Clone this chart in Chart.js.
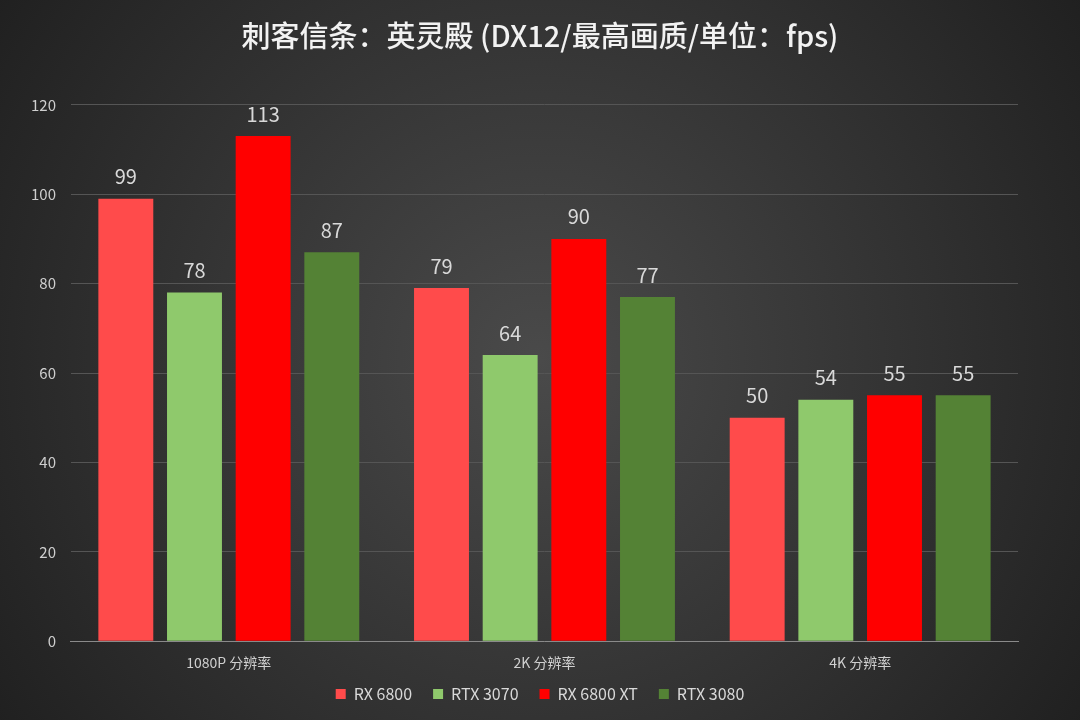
<!DOCTYPE html>
<html>
<head>
<meta charset="utf-8">
<script src="https://cdn.jsdelivr.net/npm/chart.js@4/dist/chart.umd.min.js"></script>
<style>
  html, body { margin: 0; padding: 0; background: #262626; }
  #wrap { width: 1080px; height: 720px; }
</style>
</head>
<body>
<div id="wrap"><canvas id="c" width="1080" height="720"></canvas></div>
<script>
const categories = ['1080P 分辨率', '2K 分辨率', '4K 分辨率'];
const seriesNames = ['RX 6800', 'RTX 3070', 'RX 6800 XT', 'RTX 3080'];
const rx6800 = [99, 79, 50];
const rtx3070 = [78, 64, 54];
const rx6800xt = [113, 90, 55];
const rtx3080 = [87, 77, 55];
const yTicks = [0, 20, 40, 60, 80, 100, 120];

const colors = ['#ff4b4b', '#8fc96c', '#ff0000', '#548235'];
const FONT = '"Noto Sans CJK SC", "Noto Sans", sans-serif';

// radial grey background
const bgPlugin = {
  id: 'bgPlugin',
  beforeDraw(chart) {
    const { ctx, width, height } = chart;
    const g = ctx.createRadialGradient(width / 2, height / 2, 0, width / 2, height / 2, width * 0.62);
    g.addColorStop(0, '#4a4a4a');
    g.addColorStop(1, '#1f1f1f');
    ctx.save();
    ctx.fillStyle = g;
    ctx.fillRect(0, 0, width, height);
    ctx.restore();
  },
  // center title and legend on the whole canvas, lift legend a bit
  afterLayout(chart) {
    [chart.legend, chart.titleBlock].forEach(box => {
      if (!box) return;
      const shift = (chart.width - box.right - box.left) / 2;
      box.left += shift;
      box.right += shift;
    });
    if (chart.legend) {
      chart.legend.top -= 11;
      chart.legend.bottom -= 11;
    }
  },
};

// value above each bar
const valueLabelPlugin = {
  id: 'valueLabelPlugin',
  afterDatasetsDraw(chart) {
    const { ctx } = chart;
    chart.data.datasets.forEach((dataset, i) => {
      const meta = chart.getDatasetMeta(i);
      if (meta.hidden) return;
      meta.data.forEach((el, idx) => {
        const v = dataset.data[idx];
        ctx.save();
        ctx.fillStyle = '#d9d9d9';
        ctx.font = '20px ' + FONT;
        ctx.textAlign = 'center';
        ctx.textBaseline = 'bottom';
        ctx.fillText(v, el.x, el.y - 12);
        ctx.restore();
      });
    });
  },
};

const seriesData = [rx6800, rtx3070, rx6800xt, rtx3080];

new Chart(document.getElementById('c'), {
  type: 'bar',
  data: {
    labels: categories,
    datasets: seriesNames.map((name, i) => ({
      label: name,
      data: seriesData[i],
      backgroundColor: colors[i],
      borderWidth: 0,
      categoryPercentage: 0.87,
      barPercentage: 0.8,
    })),
  },
  options: {
    responsive: false,
    animation: false,
    layout: { padding: { left: 16, right: 62, top: 0, bottom: -3 } },
    plugins: {
      title: {
        display: true,
        text: '刺客信条：英灵殿 (DX12/最高画质/单位：fps)',
        color: '#f2f2f2',
        font: { family: FONT, size: 29, weight: 500 },
        padding: { top: 19, bottom: 51 },
      },
      legend: {
        position: 'bottom',
        labels: {
          color: '#d9d9d9',
          font: { family: FONT, size: 16 },
          boxWidth: 10,
          boxHeight: 10,
          padding: 21,
        },
      },
      tooltip: { enabled: false },
    },
    scales: {
      x: {
        grid: { display: false },
        border: { color: '#8a8a8a', width: 1 },
        ticks: { color: '#d0d0d0', font: { family: FONT, size: 14 }, padding: 5 },
      },
      y: {
        min: 0,
        max: 120,
        afterBuildTicks(axis) { axis.ticks = yTicks.map(v => ({ value: v })); },
        grid: { color: '#555555', lineWidth: 1, drawTicks: false },
        border: { display: false },
        ticks: { color: '#cfcfcf', font: { family: FONT, size: 15 }, padding: 15 },
      },
    },
  },
  plugins: [bgPlugin, valueLabelPlugin],
});
</script>
</body>
</html>
